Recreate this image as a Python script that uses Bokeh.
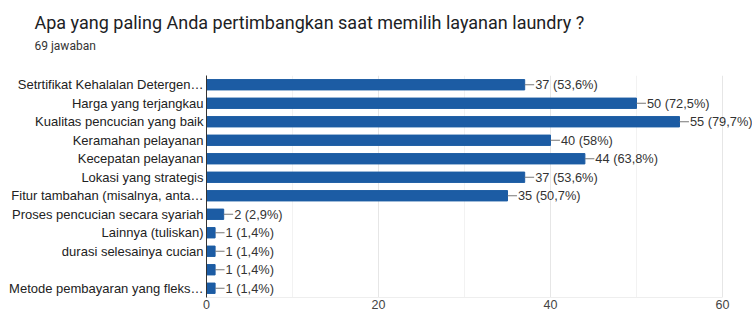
from bokeh.plotting import figure
from bokeh.models import ColumnDataSource, LabelSet, Title, FixedTicker, Range1d, FactorRange
from bokeh.core.properties import value
from bokeh.embed import file_html
from bokeh.resources import INLINE

categories = [
    "Setrtifikat Kehalalan Detergen\u2026",
    "Harga yang terjangkau",
    "Kualitas pencucian yang baik",
    "Keramahan pelayanan",
    "Kecepatan pelayanan",
    "Lokasi yang strategis",
    "Fitur tambahan (misalnya, anta\u2026",
    "Proses pencucian secara syariah",
    "Lainnya (tuliskan)",
    "durasi selesainya cucian",
    " ",
    "Metode pembayaran yang fleks\u2026",
]
counts = [37, 50, 55, 40, 44, 37, 35, 2, 1, 1, 1, 1]
percents = ["53,6%", "72,5%", "79,7%", "58%", "63,8%", "53,6%", "50,7%", "2,9%", "1,4%", "1,4%", "1,4%", "1,4%"]
x_ticks = [0, 20, 40, 60]
title_text = "Apa yang paling Anda pertimbangkan saat memilih layanan laundry ?"
subtitle_text = "69 jawaban"

labels = [f"{c} ({p})" for c, p in zip(counts, percents)]
conn_len = 1.1
source = ColumnDataSource(dict(
    cat=categories,
    val=counts,
    lab=labels,
    lx=[c + conn_len for c in counts],
    x0=counts,
    x1=[c + conn_len for c in counts],
))

W, H = 752, 314
left, top, bottom = 206, 75, 17
px_per_unit = (722 - 206) / 60.0
x_end = (W - left) / px_per_unit

p = figure(
    width=W, height=H, title=None,
    y_range=FactorRange(*reversed(categories), range_padding=0),
    x_range=Range1d(0, x_end),
    output_backend="svg", toolbar_location=None,
    min_border_left=left, min_border_right=0, min_border_top=top, min_border_bottom=bottom,
)
p.outline_line_color = None
p.background_fill_color = "white"
p.border_fill_color = "white"

p.hbar(y="cat", right="val", left=0, height=0.56, color="#1c5ca4", source=source)
p.segment(x0="x0", y0="cat", x1="x1", y1="cat", line_color="#777777", line_width=1, source=source)

ls = LabelSet(x="lx", y="cat", text="lab", source=source, x_offset=1,
              text_font=value("Liberation Sans"), text_font_size="12.8px", text_color="#333333",
              text_baseline="middle", text_align="left")
p.add_layout(ls)

# grid
p.xgrid.ticker = FixedTicker(ticks=x_ticks, minor_ticks=[10, 30, 50])
p.xgrid.grid_line_color = "#e6e6e6"
p.xgrid.minor_grid_line_color = "#f2f2f2"
p.ygrid.grid_line_color = None

# axes
p.xaxis.ticker = FixedTicker(ticks=x_ticks)
p.xaxis.bounds = (0, 60)
p.xaxis.axis_line_color = "#eeeeee"
p.xaxis.major_tick_line_color = None
p.xaxis.minor_tick_line_color = None
p.xaxis.major_tick_out = 0
p.xaxis.major_label_standoff = 2
p.xaxis.major_label_text_font = "Liberation Sans"
p.xaxis.major_label_text_font_size = "12.5px"
p.xaxis.major_label_text_color = "#444444"

p.yaxis.axis_line_color = "#333333"
p.yaxis.major_tick_line_color = None
p.yaxis.minor_tick_line_color = None
p.yaxis.major_tick_out = 0
p.yaxis.major_label_standoff = 3
p.yaxis.major_label_text_font = "Liberation Sans"
p.yaxis.major_label_text_font_size = "13px"
p.yaxis.major_label_text_color = "#222222"

# titles: spacer nearest the frame, then subtitle, then main title
p.add_layout(Title(text=" ", align="left", offset=0, standoff=7,
                   text_font="Roboto", text_font_size="12px", text_color="white"), "above")
p.add_layout(Title(text=subtitle_text, align="left", offset=34 - left, standoff=0,
                   text_font="Roboto", text_font_size="12px", text_font_style="normal",
                   text_color="#333333"), "above")
p.add_layout(Title(text=title_text, align="left", offset=34 - left, standoff=7,
                   text_font="Roboto", text_font_size="18px", text_font_style="normal",
                   text_color="#202124"), "above")

open("out.html", "w").write(file_html(p, INLINE))
